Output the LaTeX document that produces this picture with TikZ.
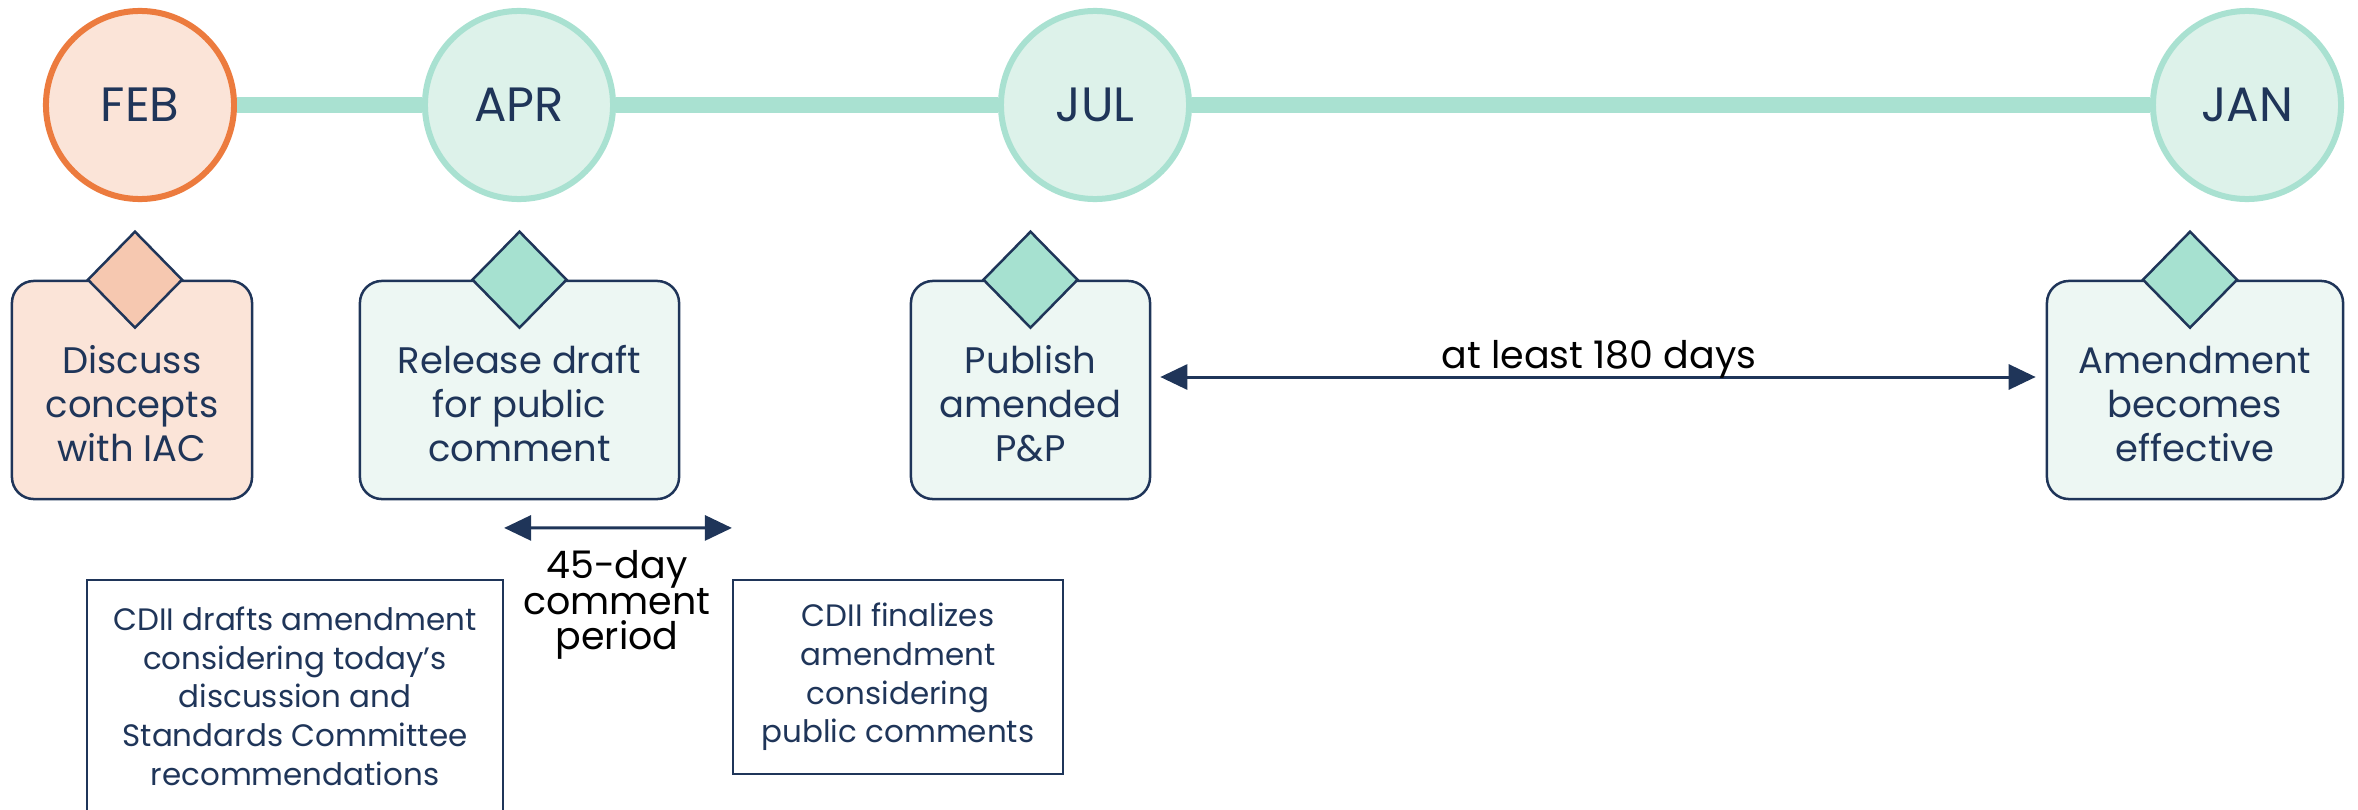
\documentclass[tikz,border=0pt]{standalone}
\usepackage{fontspec}
\setmainfont{Poppins}
\usetikzlibrary{arrows.meta,shapes.geometric}
\definecolor{navy}{HTML}{1F3559}
\definecolor{orangeline}{HTML}{EC7B3E}
\definecolor{peach}{HTML}{FBE4D8}
\definecolor{peachdia}{HTML}{F6C8B0}
\definecolor{tealline}{HTML}{A9E1D1}
\definecolor{tealfill}{HTML}{DDF2EA}
\definecolor{tealbox}{HTML}{EDF7F3}
\definecolor{tealdia}{HTML}{A6E1D0}
\newcommand{\tightlines}{\setlength{\lineskiplimit}{-8pt}\setlength{\lineskip}{0pt}}
\begin{document}
\begin{tikzpicture}[x=0.01cm,y=-0.01cm,
  month/.style={circle, minimum size=1.88cm, inner sep=0pt, line width=0.06cm, text=navy, font=\fontsize{13.7}{16}\selectfont},
  tl/.style={line width=0.155cm, draw=tealline},
  card/.style={draw=navy, line width=0.025cm, rounded corners=0.22cm, minimum height=2.18cm},
  cardtxt/.style={font=\fontsize{10.5}{12.5}\selectfont, text=navy, align=center},
  gem/.style={diamond, draw=navy, line width=0.025cm, minimum width=0.95cm, minimum height=0.97cm, inner sep=0pt},
  note/.style={draw=navy, line width=0.02cm, align=center, text=navy, font=\fontsize{8.8}{11}\selectfont},
  dbl/.style={{Triangle[length=0.27cm,width=0.25cm]}-{Triangle[length=0.27cm,width=0.25cm]}, draw=navy, line width=0.03cm},
  lbl/.style={font=\fontsize{10.8}{10}\selectfont\tightlines, text=black, align=center}
]
\useasboundingbox (0,0) rectangle (2358,809);
\clip (0,0) rectangle (2358,809);
% month circles
\node[month, draw=orangeline, fill=peach] (feb) at (140,105) {FEB};
\node[month, draw=tealline, fill=tealfill] (apr) at (519,105) {APR};
\node[month, draw=tealline, fill=tealfill] (jul) at (1095,105) {JUL};
\node[month, draw=tealline, fill=tealfill] (jan) at (2247,105) {JAN};
\draw[tl] (feb) -- (apr);
\draw[tl] (apr) -- (jul);
\draw[tl] (jul) -- (jan);
% cards
\node[card, fill=peach, minimum width=2.40cm] (febbox) at (132,390) {};
\node[card, fill=tealbox, minimum width=3.19cm] (aprbox) at (519.5,390) {};
\node[card, fill=tealbox, minimum width=2.39cm] (julbox) at (1030.5,390) {};
\node[card, fill=tealbox, minimum width=2.96cm] (janbox) at (2195,390) {};
\node[gem, fill=peachdia] (febgem) at ([xshift=0.03cm]febbox.north) {};
\node[gem, fill=tealdia] (aprgem) at (aprbox.north) {};
\node[gem, fill=tealdia] (julgem) at (julbox.north) {};
\node[gem, fill=tealdia] (jangem) at ([xshift=-0.05cm]janbox.north) {};
\node[cardtxt] (febtxt) at ([yshift=-0.14cm]febbox.center) {Discuss\\concepts\\with IAC};
\node[cardtxt] (aprtxt) at ([yshift=-0.14cm]aprbox.center) {Release draft\\for public\\comment};
\node[cardtxt] (jultxt) at ([yshift=-0.14cm]julbox.center) {Publish\\amended\\P\&P};
\node[cardtxt] (jantxt) at ([yshift=-0.14cm]janbox.center) {Amendment\\becomes\\effective};
% 180 days
\path (julbox.east) ++(9,-13) coordinate (d1);
\path (janbox.west) ++(-10,-13) coordinate (d2);
\draw[dbl] (d1) -- (d2);
\node[lbl, anchor=base] (days) at (1599,368) {at least 180 days};
% bottom notes
\node[note, minimum width=4.16cm, minimum height=2.32cm] (draftbox) at (295,696) {CDII drafts amendment\\considering today’s\\discussion and\\Standards Committee\\recommendations};
\node[note, minimum width=3.30cm, minimum height=1.94cm] (finalbox) at (898,677) {CDII finalizes\\amendment\\considering\\public comments};
\path (draftbox.north east) ++(0,-51) coordinate (c1);
\path (finalbox.north west) ++(0,-51) coordinate (c2);
\draw[dbl] (c1) -- (c2);
\node[lbl] (period) at (617,605) {45-day\\comment\\period};
\end{tikzpicture}
\end{document}
